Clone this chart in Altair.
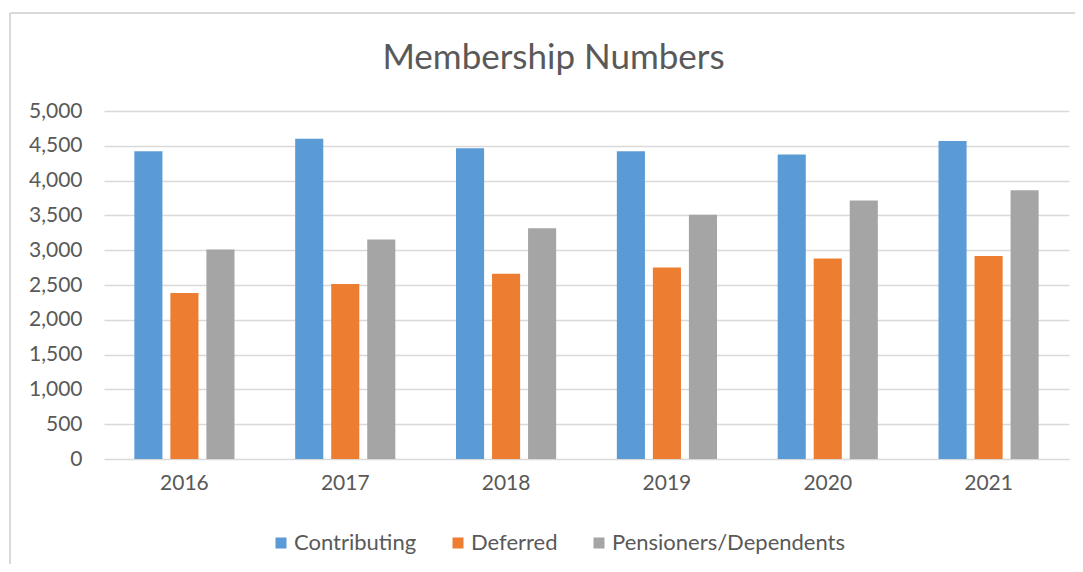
import altair as alt
import pandas as pd

years = ["2016", "2017", "2018", "2019", "2020", "2021"]
series = ["Contributing", "Deferred", "Pensioners/Dependents"]
contributing = [4420, 4600, 4465, 4420, 4375, 4570]
deferred = [2385, 2515, 2660, 2750, 2880, 2915]
pensioners = [3010, 3155, 3315, 3510, 3715, 3860]
colors = ["#5B9BD5", "#ED7D31", "#A5A5A5"]

rows = []
for name, vals in zip(series, [contributing, deferred, pensioners]):
    for y, v in zip(years, vals):
        rows.append({"Year": y, "Series": name, "Value": v})
df = pd.DataFrame(rows)

FONT = "Lato"
TXT = "#595959"

bars = alt.Chart(df).mark_bar().encode(
    x=alt.X("Year:N", sort=years, title=None,
            scale=alt.Scale(paddingInner=0.328, paddingOuter=0.164),
            axis=alt.Axis(labelAngle=0, labelFont=FONT, labelFontSize=21,
                          labelColor=TXT, labelPadding=13, domain=False,
                          ticks=False)),
    xOffset=alt.XOffset("Series:N", sort=series,
                        scale=alt.Scale(paddingInner=0.22, paddingOuter=0.11)),
    y=alt.Y("Value:Q", title=None,
            scale=alt.Scale(domain=[0, 5000], nice=False),
            axis=alt.Axis(values=list(range(0, 5001, 500)), format=",.0f",
                          labelFont=FONT, labelFontSize=21, labelColor=TXT,
                          labelPadding=22, domain=False, ticks=False,
                          grid=True, gridColor="#D9D9D9", gridWidth=1.5)),
    color=alt.Color("Series:N", sort=series,
                    scale=alt.Scale(domain=series, range=colors),
                    legend=alt.Legend(title=None, orient="none",
                                      direction="horizontal",
                                      legendX=166, legendY=421,
                                      symbolType="square", symbolSize=121,
                                      symbolStrokeWidth=0,
                                      labelFont=FONT, labelFontSize=22,
                                      labelColor=TXT, labelOffset=2,
                                      labelLimit=400,
                                      columnPadding=30, padding=0)),
)

border_top = alt.Chart(df).mark_rule(color="#D9D9D9", strokeWidth=2, clip=False).encode(
    x=alt.value(-94), x2=alt.value(1000), y=alt.value(-98)
)
border_left = alt.Chart(df).mark_rule(color="#D9D9D9", strokeWidth=2, clip=False).encode(
    x=alt.value(-94), y=alt.value(-98), y2=alt.value(480)
)

chart = alt.layer(bars, border_top, border_left).properties(
    width=965,
    height=348,
    title=alt.TitleParams("Membership Numbers", font=FONT, fontSize=35,
                          fontWeight="normal", color=TXT, anchor="middle",
                          dx=-33, offset=-64),
    padding={"left": 96, "top": 103, "right": 6, "bottom": 105},
    autosize=alt.AutoSizeParams(type="none"),
).configure_view(stroke=None)

chart.save("out.html", embed_options={"renderer": "svg", "actions": False})
